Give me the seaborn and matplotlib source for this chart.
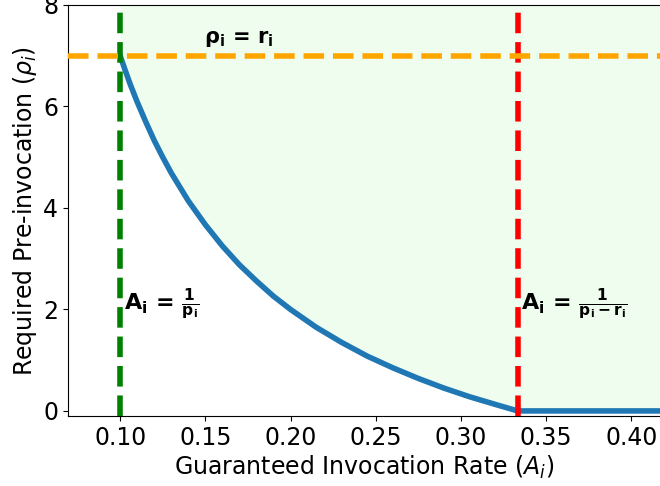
import matplotlib
matplotlib.use("Agg")
import matplotlib.pyplot as plt
import seaborn as sns
import pandas as pd

# Values
rate = [0.100, 0.103, 0.106, 0.110, 0.115, 0.120, 0.125, 0.130, 0.140, 0.150,
        0.160, 0.170, 0.180, 0.190, 0.200, 0.215, 0.230, 0.245, 0.260, 0.275,
        0.290, 0.305, 0.320, 0.3333, 0.36, 0.39, 0.42]
pre_inv = [7.00, 6.71, 6.43, 6.09, 5.70, 5.33, 5.00, 4.69, 4.14, 3.67,
           3.25, 2.88, 2.56, 2.26, 2.00, 1.65, 1.35, 1.08, 0.85, 0.64,
           0.45, 0.28, 0.13, 0.00, 0.00, 0.00, 0.00]
a_low = 0.10          # A_i = 1/p_i
a_high = 0.3333       # A_i = 1/(p_i - r_i)
r_i = 7.0             # rho_i = r_i
x_ticks = [0.10, 0.15, 0.20, 0.25, 0.30, 0.35, 0.40]
y_ticks = [0, 2, 4, 6, 8]

df = pd.DataFrame({"rate": rate, "pre": pre_inv})

fig = plt.figure(figsize=(6.6, 4.86), dpi=100)
ax = fig.add_axes([68 / 660, 1 - 416 / 486, 1 - 68 / 660 + 0.002, (416 - 5) / 486])

ax.fill_between(df["rate"], df["pre"], 8, color="#effdef", zorder=0, linewidth=0)
sns.lineplot(data=df, x="rate", y="pre", ax=ax, color="#1f77b4", linewidth=4, zorder=3)

ax.axvline(a_low, color="green", linestyle="--", linewidth=4, zorder=4)
ax.axvline(a_high, color="red", linestyle="--", linewidth=4, zorder=4)
ax.axhline(r_i, color="orange", linestyle="--", linewidth=4, zorder=4)

ax.text(0.1495, 7.33, r"$\mathbf{\rho_i\,=\,r_i}$", fontsize=15, ha="left", va="center")
ax.text(0.1025, 2.1, r"$\mathbf{A_i\,=\,\frac{1}{p_i}}$", fontsize=16, ha="left", va="center")
ax.text(0.3355, 2.1, r"$\mathbf{A_i\,=\,\frac{1}{p_i - r_i}}$", fontsize=16, ha="left", va="center")

ax.set_xlim(0.0694, 0.4176)
ax.set_ylim(-0.1, 8)
ax.set_xticks(x_ticks)
ax.set_xticklabels([f"{v:.2f}" for v in x_ticks])
ax.set_yticks(y_ticks)
ax.tick_params(labelsize=17)
ax.set_xlabel(r"Guaranteed Invocation Rate ($A_i$)", fontsize=17, labelpad=3)
ax.set_ylabel(r"Required Pre-invocation ($\rho_i$)", fontsize=17, labelpad=3)
ax.spines["right"].set_visible(False)

fig.savefig("out.png", dpi=100)
